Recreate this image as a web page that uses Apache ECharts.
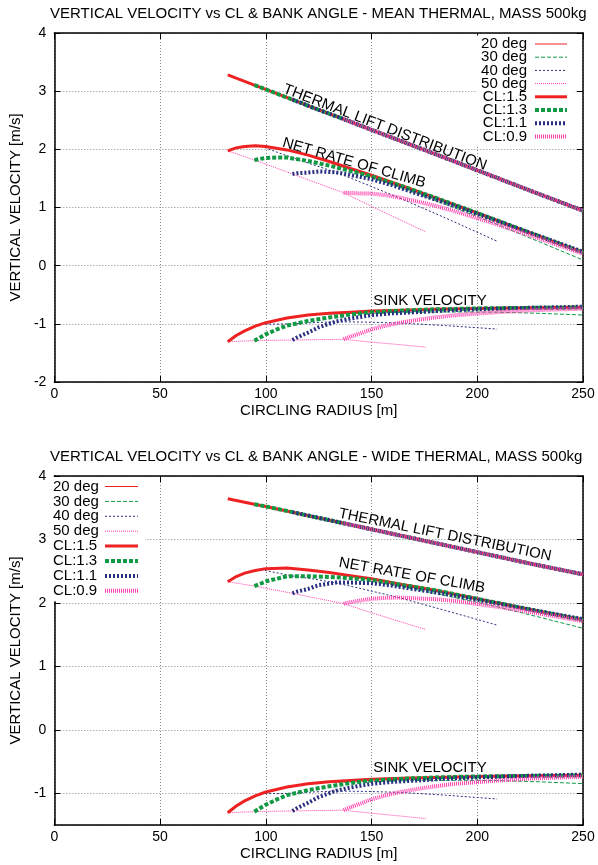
<!DOCTYPE html>
<html><head><meta charset="utf-8">
<script src="https://cdn.jsdelivr.net/npm/echarts@6/dist/echarts.min.js"></script>
<style>html,body{margin:0;padding:0;background:#fff}#c{width:598px;height:865px}</style>
</head><body><div id="c"></div>
<script>
// ---------- DATA ----------
const seriesNames = ['20 deg','30 deg','40 deg','50 deg','CL:1.5','CL:1.3','CL:1.1','CL:0.9'];
const xTicks = [0, 50, 100, 150, 200, 250];

// thermal lift distribution (radius m -> m/s)
const thermalR    = [82, 94.6, 100, 112.6, 125, 136.8, 150, 175, 200, 225, 250];
const thermalMean = [3.28, 3.105, 3.03, 2.855, 2.68, 2.52, 2.335, 1.99, 1.64, 1.29, 0.945];
const thermalWide = [3.64, 3.555, 3.52, 3.43, 3.34, 3.255, 3.16, 2.98, 2.80, 2.62, 2.45];

// constant bank angle curves
const r20 = [183.6, 197, 211.8, 230, 250];
const sink20 = [-0.745, -0.737, -0.730, -0.720, -0.710];
const netMean20 = [1.125, 0.943, 0.740, 0.500, 0.235];
const netWide20 = [2.175, 2.083, 1.990, 1.870, 1.740];

const r30 = [125.6, 135, 144.9, 157, 171.3, 190, 209.3, 230, 250];
const sink30 = [-0.830, -0.825, -0.820, -0.810, -0.800, -0.795, -0.800, -0.820, -0.848];
const netMean30 = [1.845, 1.720, 1.585, 1.430, 1.240, 0.985, 0.710, 0.400, 0.097];
const netWide30 = [2.505, 2.445, 2.380, 2.300, 2.210, 2.080, 1.940, 1.770, 1.600];

const r40 = [97.7, 105, 112.7, 122, 133.2, 147, 162.8, 185, 209.4];
const sink40 = [-1.005, -1.005, -1.000, -0.980, -0.965, -0.970, -0.985, -1.030, -1.090];
const netMean40 = [2.055, 1.955, 1.855, 1.740, 1.605, 1.405, 1.170, 0.820, 0.420];
const netWide40 = [2.525, 2.475, 2.425, 2.380, 2.315, 2.210, 2.085, 1.880, 1.650];

const r50 = [82, 88, 94.6, 103, 112.6, 124, 136.8, 150, 164, 175.7];
const sink50 = [-1.307, -1.298, -1.290, -1.284, -1.278, -1.272, -1.266, -1.315, -1.360, -1.400];
const netMean50 = [1.973, 1.900, 1.815, 1.706, 1.577, 1.423, 1.254, 1.020, 0.780, 0.580];
const netWide50 = [2.333, 2.302, 2.265, 2.211, 2.152, 2.073, 1.989, 1.845, 1.700, 1.580];

// constant CL curves
const rCL15 = [82, 86, 90, 95, 100, 110, 120, 130, 140, 150, 165, 180, 200, 225, 250];
const sinkCL15 = [-1.307, -1.200, -1.120, -1.040, -0.980, -0.900, -0.850, -0.820, -0.800, -0.780, -0.765, -0.750, -0.735, -0.725, -0.715];
const netMeanCL15 = [1.973, 2.025, 2.050, 2.060, 2.050, 1.990, 1.900, 1.790, 1.670, 1.555, 1.365, 1.170, 0.905, 0.565, 0.230];
const netWideCL15 = [2.333, 2.415, 2.470, 2.510, 2.540, 2.550, 2.520, 2.480, 2.430, 2.380, 2.285, 2.200, 2.065, 1.895, 1.735];

const rCL13 = [94.6, 98, 100, 105, 110, 120, 130, 140, 150, 165, 180, 200, 225, 250];
const sinkCL13 = [-1.290, -1.220, -1.180, -1.100, -1.030, -0.950, -0.890, -0.840, -0.800, -0.770, -0.750, -0.735, -0.725, -0.720];
const netMeanCL13 = [1.815, 1.840, 1.850, 1.860, 1.860, 1.800, 1.720, 1.630, 1.535, 1.360, 1.170, 0.905, 0.565, 0.225];
const netWideCL13 = [2.265, 2.310, 2.340, 2.380, 2.420, 2.420, 2.410, 2.390, 2.360, 2.280, 2.200, 2.065, 1.895, 1.730];

const rCL11 = [112.6, 115, 120, 125, 133.2, 140, 150, 160, 171.3, 185, 200, 225, 250];
const sinkCL11 = [-1.278, -1.230, -1.150, -1.060, -0.960, -0.910, -0.850, -0.820, -0.800, -0.770, -0.750, -0.725, -0.705];
const netMeanCL11 = [1.577, 1.590, 1.600, 1.620, 1.605, 1.560, 1.485, 1.380, 1.240, 1.080, 0.890, 0.565, 0.240];
const netWideCL11 = [2.152, 2.180, 2.220, 2.280, 2.320, 2.320, 2.310, 2.270, 2.210, 2.140, 2.050, 1.895, 1.745];

const rCL09 = [136.8, 140, 145, 150, 157, 162.8, 172, 180, 190, 209.3, 227, 240, 250];
const sinkCL09 = [-1.266, -1.220, -1.160, -1.095, -1.030, -0.985, -0.930, -0.890, -0.850, -0.800, -0.765, -0.750, -0.740];
const netMeanCL09 = [1.254, 1.250, 1.240, 1.240, 1.210, 1.175, 1.100, 1.030, 0.930, 0.710, 0.495, 0.330, 0.205];
const netWideCL09 = [1.989, 2.010, 2.040, 2.065, 2.080, 2.085, 2.070, 2.060, 2.030, 1.940, 1.845, 1.770, 1.710];

// ---------- STYLE / BUILD ----------
const FONT = '"Liberation Sans", Arial, Helvetica, sans-serif';
const styles = {
  '20 deg': {color:'#ee2222', width:1, type:'solid'},
  '30 deg': {color:'#119944', width:1, type:[4,2]},
  '40 deg': {color:'#2b2f80', width:1, type:[2,2]},
  '50 deg': {color:'#ff3fae', width:1, type:[1,1]},
  'CL:1.5': {color:'#ee2222', width:3, type:'solid'},
  'CL:1.3': {color:'#119944', width:4, type:[4,2]},
  'CL:1.1': {color:'#2b2f80', width:4, type:[2,2]},
  'CL:0.9': {color:'#ff3fae', width:4, type:[1,1]}
};
const defs = [
  {name:'20 deg', r:r20, sink:sink20, net:[netMean20, netWide20]},
  {name:'30 deg', r:r30, sink:sink30, net:[netMean30, netWide30]},
  {name:'40 deg', r:r40, sink:sink40, net:[netMean40, netWide40]},
  {name:'50 deg', r:r50, sink:sink50, net:[netMean50, netWide50]},
  {name:'CL:1.5', r:rCL15, sink:sinkCL15, net:[netMeanCL15, netWideCL15], thermal:true},
  {name:'CL:1.3', r:rCL13, sink:sinkCL13, net:[netMeanCL13, netWideCL13], thermal:true},
  {name:'CL:1.1', r:rCL11, sink:sinkCL11, net:[netMeanCL11, netWideCL11], thermal:true},
  {name:'CL:0.9', r:rCL09, sink:sinkCL09, net:[netMeanCL09, netWideCL09], thermal:true}
];
const thermals = [thermalMean, thermalWide];

function mk(name, xs, ys, gi, z){
  const s = styles[name];
  return {
    type:'line', name, xAxisIndex: gi*2, yAxisIndex: gi*2,
    data: xs.map((x,i)=>[x, ys[i]]), symbol:'none', silent:true, z,
    lineStyle:{color:s.color, width:s.width, type:s.type, cap:'butt', opacity:1},
    itemStyle:{color:s.color}
  };
}
const series = [];
[0,1].forEach(gi=>{
  defs.forEach((d,k)=>{
    const z = 2 + k*0.1;
    if (d.thermal){
      const xs=[], ys=[];
      thermalR.forEach((r,i)=>{ if (r >= d.r[0]-0.01){ xs.push(r); ys.push(thermals[gi][i]); } });
      series.push(mk(d.name, xs, ys, gi, z));
    }
    series.push(mk(d.name, d.r, d.net[gi], gi, z));
    series.push(mk(d.name, d.r, d.sink, gi, z));
  });
});

const axisLineS = {onZero:false, lineStyle:{color:'#000', width:1.5}};
const tickS = {inside:true, length:6, lineStyle:{color:'#000', width:1}};
const splitS = {show:true, lineStyle:{color:'#8a8a8a', type:[1,2], width:1}};
function xAxes(gi){
  return [
    {gridIndex:gi, type:'value', min:xTicks[0], max:xTicks[xTicks.length-1], interval:50, position:'bottom',
     name:'CIRCLING RADIUS [m]', nameLocation:'middle', nameGap:21,
     nameTextStyle:{fontFamily:FONT, fontSize:15, color:'#000', verticalAlign:'top'},
     axisLine:axisLineS, axisTick:tickS,
     axisLabel:{fontFamily:FONT, fontSize:14, color:'#000', margin:5}, splitLine:splitS},
    {gridIndex:gi, type:'value', min:0, max:250, interval:50, position:'top',
     axisLine:axisLineS, axisTick:tickS, axisLabel:{show:false}, splitLine:{show:false}}
  ];
}
function yAxes(gi, range){
  const base = {gridIndex:gi, type:'value', min:range[0], max:range[1]};
  if (gi===0){ base.interval = 1; } else { base.minInterval = 1; base.maxInterval = 1; base.splitNumber = 5; }
  return [
    Object.assign({}, base, {position:'left', name:'VERTICAL VELOCITY [m/s]', nameLocation:'middle', nameGap:27,
      nameTextStyle:{fontFamily:FONT, fontSize:15, color:'#000'},
      axisLine:axisLineS, axisTick:tickS,
      axisLabel:{fontFamily:FONT, fontSize:14, color:'#000', margin:8, showMinLabel: gi===0},
      splitLine:splitS}),
    Object.assign({}, base, {position:'right', axisLine:axisLineS, axisTick:tickS,
      axisLabel:{show:false}, splitLine:{show:false}})
  ];
}

const titleS = {fontFamily:FONT, fontSize:15, fontWeight:'normal', color:'#000'};
function txt(x, y, deg, text){
  return {type:'text', x, y, rotation: -deg*Math.PI/180, z:100, silent:true,
    style:{text, font:'15px "Liberation Sans", Arial, sans-serif', fill:'#000',
      align:'center', verticalAlign:'middle', textAlign:'center', textVerticalAlign:'middle'}};
}

const option = {
  animation:false,
  backgroundColor:'#fff',
  title:[
    {text:'VERTICAL VELOCITY vs CL & BANK ANGLE - MEAN THERMAL, MASS 500kg', left:50, top:6, padding:0, textStyle:titleS},
    {text:'VERTICAL VELOCITY vs CL & BANK ANGLE - WIDE THERMAL, MASS 500kg', left:50, top:449, padding:0, textStyle:titleS}
  ],
  grid:[
    {left:50, top:33, width:533, height:349},
    {left:50, top:476, width:533, height:349}
  ],
  xAxis:[...xAxes(0), ...xAxes(1)],
  yAxis:[...yAxes(0, [-2, 4]), ...yAxes(1, [-1.5, 4])],
  legend:[
    {orient:'vertical', right:24, top:35.5, align:'right', itemWidth:32, itemHeight:10, itemGap:-1.8,
     padding:[1,5,3,5], backgroundColor:'#fff', selectedMode:false, data:seriesNames,
     lineStyle:{width:'inherit', opacity:1}, itemStyle:{opacity:0},
     textStyle:{fontFamily:FONT, fontSize:15, color:'#000', padding:[0,3,0,0]}},
    {orient:'vertical', left:48, top:477, align:'right', itemWidth:33, itemHeight:10, itemGap:-0.1,
     padding:[2,5,3,5], backgroundColor:'#fff', selectedMode:false, data:seriesNames,
     lineStyle:{width:'inherit', opacity:1}, itemStyle:{opacity:0},
     formatter:'{a|{name}}',
     textStyle:{fontFamily:FONT, fontSize:15, color:'#000',
       rich:{a:{width:47, align:'left', fontFamily:FONT, fontSize:15, color:'#000'}}}}
  ],
  graphic:[
    txt(385, 127.5, 21, 'THERMAL LIFT DISTRIBUTION'),
    txt(354, 163, 16, 'NET RATE OF CLIMB'),
    txt(430, 301, 0, 'SINK VELOCITY'),
    txt(445, 535, 11.5, 'THERMAL LIFT DISTRIBUTION'),
    txt(412, 575.5, 10, 'NET RATE OF CLIMB'),
    txt(430, 768, 0, 'SINK VELOCITY')
  ],
  series
};
const chart = echarts.init(document.getElementById('c'), null, {renderer:'canvas'});
chart.setOption(option);
</script>
</body></html>
